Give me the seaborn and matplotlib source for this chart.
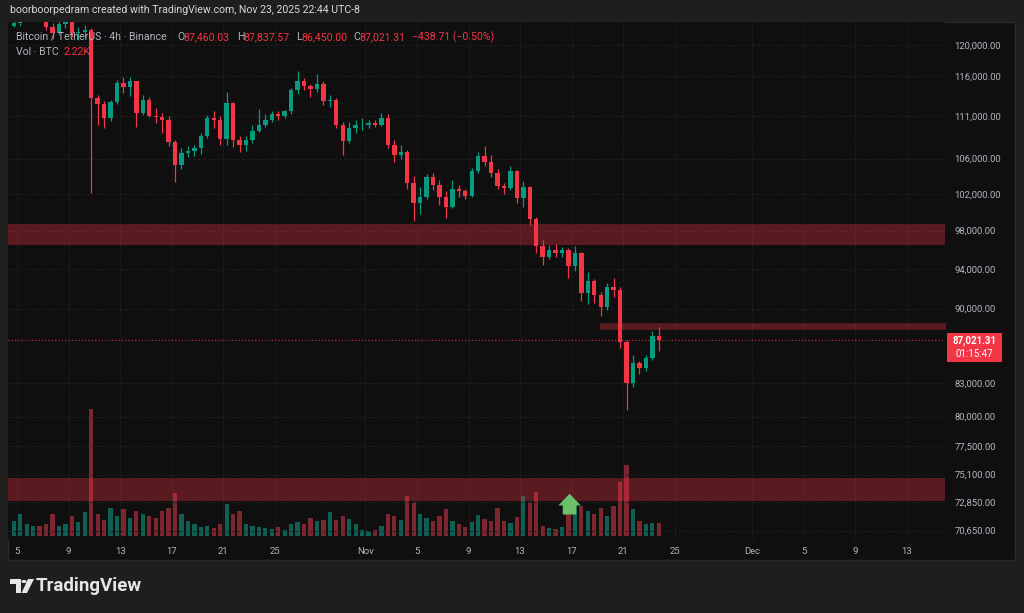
import pandas as pd
import seaborn as sns
import matplotlib.pyplot as plt
from matplotlib.patches import Rectangle, Polygon, Circle

# BTCUSDT on Binance, 12h candles in UTC-8, first candle opens Oct 4 12:00
# prices in K USDT, volume in K BTC
first_open = 122.5
close = [122.9, 123.8, 124.6, 125.2, 124.7, 122.4, 121.6, 122.8, 123.3, 121.5,
         121.7, 121.9, 113.2, 112.5, 110.8, 112.8, 115.1, 114.6, 115.3, 111.4,
         113.0, 111.0, 110.9, 110.5, 107.9, 105.3, 106.6, 106.9, 107.2, 108.6,
         110.8, 110.6, 108.3, 112.6, 108.2, 107.6, 108.2, 109.2, 110.0, 110.5,
         111.3, 111.0, 111.6, 114.2, 115.3, 114.7, 114.3, 115.0, 112.9, 113.0,
         110.0, 108.1, 109.6, 109.9, 110.0, 110.2, 110.0, 110.8, 107.6, 106.4,
         106.8, 103.2, 101.0, 101.7, 103.9, 103.0, 101.6, 100.6, 102.6, 102.3,
         101.8, 104.6, 106.3, 105.6, 104.3, 102.9, 102.7, 104.6, 101.5, 102.8,
         99.2, 96.4, 95.2, 95.9, 95.6, 95.9, 94.3, 95.6, 91.5, 92.8,
         91.3, 90.2, 92.1, 91.8, 86.8, 83.0, 84.8, 84.4, 85.3, 87.4,
         87.02]
high = [123.9, 125.0, 125.4, 125.9, 126.2, 125.2, 122.9, 123.4, 124.1, 123.6,
        122.3, 122.6, 122.2, 113.6, 112.9, 113.0, 115.5, 115.9, 115.9, 115.4,
        113.6, 113.4, 112.0, 111.4, 111.0, 108.2, 107.2, 107.5, 107.6, 109.0,
        111.2, 111.6, 111.0, 114.0, 112.8, 108.6, 108.7, 110.0, 111.9, 111.3,
        111.6, 111.7, 111.8, 114.5, 116.6, 115.7, 115.0, 116.2, 115.4, 113.6,
        113.2, 110.3, 110.3, 110.6, 110.8, 110.6, 110.6, 111.4, 111.3, 108.2,
        107.6, 107.0, 104.0, 102.8, 104.2, 104.3, 103.5, 102.3, 103.5, 103.0,
        102.6, 104.9, 106.8, 107.5, 106.4, 104.8, 103.2, 105.1, 104.7, 103.4,
        102.9, 99.5, 97.0, 96.5, 96.6, 96.3, 96.2, 96.4, 95.7, 93.7,
        93.0, 91.6, 92.6, 93.1, 92.2, 87.0, 85.6, 85.0, 85.6, 87.8,
        88.2]
low = [122.3, 122.5, 123.4, 124.2, 123.9, 121.9, 120.8, 121.3, 122.2, 121.0,
       120.7, 120.9, 102.1, 109.9, 109.6, 110.4, 112.5, 113.9, 113.5, 109.7,
       111.2, 110.9, 110.2, 109.0, 107.5, 103.3, 104.8, 106.2, 106.3, 106.5,
       108.4, 109.6, 107.6, 107.6, 107.3, 106.8, 106.9, 107.8, 109.1, 109.7,
       110.3, 110.6, 110.8, 111.3, 113.8, 114.2, 113.4, 114.0, 112.4, 112.1,
       109.6, 106.4, 107.8, 109.0, 109.4, 109.6, 109.7, 109.8, 107.2, 105.6,
       105.9, 102.6, 99.0, 99.8, 101.4, 102.4, 100.8, 99.3, 100.4, 101.7,
       101.4, 101.6, 104.4, 105.1, 103.9, 102.6, 102.0, 102.4, 101.0, 100.5,
       98.6, 95.6, 94.4, 95.0, 95.2, 95.2, 93.1, 93.8, 90.8, 90.5,
       90.6, 89.3, 89.9, 91.2, 86.2, 80.6, 82.6, 83.8, 84.1, 85.1,
       85.9]
vol = [2.6, 3.7, 2.0, 1.7, 1.7, 2.0, 3.7, 1.7, 2.0, 3.4,
       2.4, 4.1, 21.6, 3.7, 2.7, 4.8, 3.4, 4.6, 3.1, 4.3,
       3.7, 3.4, 3.1, 4.3, 4.8, 7.3, 3.7, 2.6, 2.0, 1.5,
       1.7, 1.4, 2.0, 5.4, 3.7, 4.3, 2.0, 1.7, 1.5, 1.4,
       1.2, 1.5, 1.0, 2.0, 2.4, 2.0, 3.1, 2.6, 2.7, 4.1,
       2.7, 3.4, 2.9, 2.0, 1.0, 0.9, 1.0, 1.7, 3.7, 3.4,
       2.7, 6.8, 5.8, 3.7, 3.1, 2.6, 3.4, 4.6, 2.6, 2.0,
       1.5, 2.4, 3.6, 2.9, 2.6, 4.8, 2.6, 2.2, 3.2, 6.8,
       5.8, 7.5, 1.7, 1.4, 1.2, 1.5, 4.1, 6.0, 5.1, 4.3,
       3.7, 4.8, 3.4, 5.1, 9.2, 12.1, 4.6, 2.6, 2.0, 2.2,
       2.2]

# drawn zones (K USDT)
zones_full = [(96.5, 98.7), (73.0, 74.8)]
zone_right = (88.05, 88.63)
zone_right_start = '2025-11-19 05:00'
arrow_time = '2025-11-16 20:00'
arrow_prices = (71.9, 73.55)
last_price = 87021.31
countdown = '01:15:47'

price_ticks = [120000, 116000, 111000, 106000, 102000, 98000, 94000, 90000,
               83000, 80000, 77500, 75100, 72850, 70650]
date_ticks = ['2025-10-05', '2025-10-09', '2025-10-13', '2025-10-17', '2025-10-21',
              '2025-10-25', '2025-11-01', '2025-11-05', '2025-11-09', '2025-11-13',
              '2025-11-17', '2025-11-21', '2025-11-25', '2025-12-01', '2025-12-05',
              '2025-12-09', '2025-12-13']
date_labels = ['5', '9', '13', '17', '21', '25', 'Nov', '5', '9', '13', '17', '21',
               '25', 'Dec', '5', '9', '13']

UP, DOWN = '#089981', '#f23645'
VOL_UP, VOL_DOWN = '#0f5f54', '#7e2630'
GRID = '#1f1f1f'
TXT = '#b2b5be'

day0 = pd.Timestamp('2025-10-05')


def to_days(t):
    return (pd.Timestamp(t) - day0) / pd.Timedelta('1D')


times = pd.date_range('2025-10-04 12:00', periods=len(close), freq='12h')
df = pd.DataFrame({'t': times, 'close': close, 'high': high, 'low': low, 'vol': vol})
df['open'] = [first_open] + close[:-1]
df['x'] = (df['t'] + pd.Timedelta('6h') - day0) / pd.Timedelta('1D')
df['dir'] = ['up' if c >= o else 'down' for o, c in zip(df['open'], df['close'])]
for c in ['open', 'close', 'high', 'low']:
    df[c] = df[c] * 1000

sns.set_style('dark')
plt.rcParams['font.family'] = ['Roboto', 'DejaVu Sans']

W, H = 1024, 613
fig = plt.figure(figsize=(W / 100, H / 100), dpi=100, facecolor='#1e1e1e')


def fx(px):
    return px / W


def fy(py):
    return 1 - py / H


# chart panel background
fig.patches.append(Rectangle((fx(8), fy(560)), (1015 - 8) / W, (560 - 22) / H,
                             transform=fig.transFigure, fc='#0f0f0f', ec='#2a2a2a',
                             lw=1, zorder=-10))

# volume axes underneath, price axes on top
axv = fig.add_axes([fx(8), fy(540), 937 / W, 518 / H])
ax = axv.twinx()
axv.set_facecolor('#0f0f0f')

sns.barplot(data=df, x='x', y='vol', hue='dir', hue_order=['up', 'down'],
            palette={'up': VOL_UP, 'down': VOL_DOWN}, native_scale=True,
            dodge=False, width=0.66, errorbar=None, legend=False, saturation=1,
            linewidth=0, ax=axv)
axv.set_ylim(-0.7, 87.4)
axv.set_yticks([])
axv.set_xlabel('')
axv.set_ylabel('')

# candles
cols = [UP if d == 'up' else DOWN for d in df['dir']]
ax.vlines(df['x'], df['low'], df['high'], colors=cols, lw=0.9, zorder=3)
body_lo = df[['open', 'close']].min(axis=1)
body_h = (df['close'] - df['open']).abs().clip(lower=80)
ax.bar(df['x'], body_h, bottom=body_lo, width=0.34, color=cols, lw=0, zorder=4)

ax.set_yscale('log')
ax.set_ylim(69930, 123030)
ax.minorticks_off()
ax.set_yticks(price_ticks, [f'{p:,.2f}' for p in price_ticks])
ax.tick_params(axis='y', length=0, pad=7, labelsize=6.8, labelcolor=TXT)
ax.grid(True, axis='y', color=GRID, lw=0.7, ls=(0, (3, 2)))

# zones
for lo_, hi_ in zones_full:
    ax.axhspan(lo_ * 1000, hi_ * 1000, fc=DOWN, alpha=0.33, ec='none', zorder=5)
xr = to_days(zone_right_start)
ax.fill_between([xr, 80], zone_right[0] * 1000, zone_right[1] * 1000,
                fc=DOWN, alpha=0.33, ec='#8a2c34', lw=0.6, zorder=5)

# last price line
ax.axhline(last_price, color=DOWN, lw=0.8, ls=(0, (1, 2)), alpha=0.85, zorder=2)

# green arrow
xa = to_days(arrow_time)
ax.annotate('', xy=(xa, arrow_prices[1] * 1000), xytext=(xa, arrow_prices[0] * 1000),
            arrowprops=dict(arrowstyle='simple,head_width=1.15,head_length=0.6,tail_width=0.7',
                            color='#6cc06a', lw=0, mutation_scale=14,
                            shrinkA=0, shrinkB=0), zorder=6)

xt = [to_days(d) for d in date_ticks]
axv.set_xticks(xt, date_labels)
axv.tick_params(axis='x', length=0, pad=5, labelsize=6.8, labelcolor=TXT)
axv.grid(True, axis='x', color=GRID, lw=0.7, ls=(0, (3, 2)))
ax.set_xlim(-0.7, 71.94)
for a in (ax, axv):
    for s in a.spines.values():
        s.set_visible(False)

# price label on the axis
fig.patches.append(Rectangle((fx(947), fy(362)), 55 / W, 29 / H, transform=fig.transFigure,
                             fc=DOWN, ec='none', zorder=10))
fig.text(fx(974.5), fy(341), f'{last_price:,.2f}', color='white', fontsize=7,
         weight='bold', ha='center', va='center', zorder=11)
fig.text(fx(974.5), fy(354), countdown, color='white', fontsize=7,
         ha='center', va='center', zorder=11)

# header and legend
fig.text(fx(10), fy(10), 'boorboorpedram created with TradingView.com, Nov 23, 2025 22:44 UTC-8',
         color='#d8d8d8', fontsize=7.6, va='center')
legend1 = [(16, 'Bitcoin / TetherUS · 4h · Binance', TXT), (177, 'O', TXT),
           (183, '87,460.03', DOWN), (237, 'H', TXT), (243, '87,837.57', DOWN),
           (296, 'L', TXT), (301, '86,450.00', DOWN), (353, 'C', TXT),
           (359, '87,021.31', DOWN), (412, '\u2212438.71 (\u22120.50%)', DOWN)]
for xp, s, c in legend1:
    fig.text(fx(xp), fy(37), s, color=c, fontsize=7.6, va='center', zorder=12)
fig.text(fx(16), fy(52), 'Vol · BTC', color=TXT, fontsize=7.6, va='center', zorder=12)
fig.text(fx(64), fy(52), '2.22K', color=DOWN, fontsize=7.6, va='center', zorder=12)

# TradingView logo
logo = '#e6e6e6'
fig.patches.append(Polygon([(fx(10), fy(579)), (fx(21), fy(579)), (fx(21), fy(593)),
                            (fx(16), fy(593)), (fx(16), fy(584)), (fx(10), fy(584))],
                           closed=True, transform=fig.transFigure, fc=logo, ec='none'))
fig.patches.append(Circle((fx(24), fy(581.5)), 2.6 / W, transform=fig.transFigure,
                          fc=logo, ec='none'))
fig.patches.append(Polygon([(fx(28), fy(579)), (fx(34), fy(579)), (fx(27), fy(593)),
                            (fx(21.5), fy(593))], closed=True, transform=fig.transFigure,
                           fc=logo, ec='none'))
fig.text(fx(36), fy(586), 'TradingView', color=logo, fontsize=13.5, weight='bold',
         va='center')

fig.savefig('out.png', dpi=100, facecolor=fig.get_facecolor())
